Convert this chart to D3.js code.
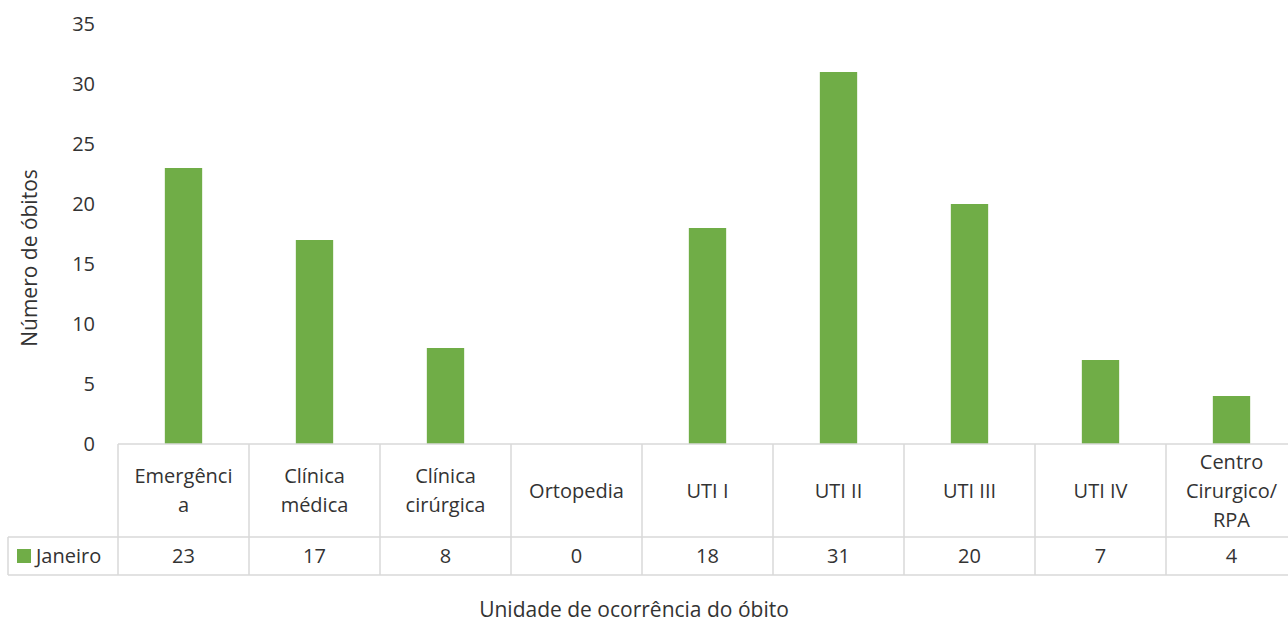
<!DOCTYPE html>
<meta charset="utf-8">
<head>
<style>
  body { margin: 0; background: #fff; font-family: "Open Sans", sans-serif; }
  svg text { fill: #333333; }
</style>
<script src="https://cdn.jsdelivr.net/npm/d3@7"></script>
</head>
<body>
<svg id="chart"></svg>
<script>
// data
let categories = ["Emergência", "Clínica médica", "Clínica cirúrgica", "Ortopedia", "UTI I", "UTI II", "UTI III", "UTI IV", "Centro Cirurgico/RPA"]
let labelLines = [["Emergênci", "a"], ["Clínica", "médica"], ["Clínica", "cirúrgica"], ["Ortopedia"], ["UTI I"], ["UTI II"], ["UTI III"], ["UTI IV"], ["Centro", "Cirurgico/", "RPA"]]
let seriesName = "Janeiro"
let values = [23, 17, 8, 0, 18, 31, 20, 7, 4]
let yTicks = [0, 5, 10, 15, 20, 25, 30, 35]

let width = 1288, height = 625
let margin = {left: 118, top: 24}
let baseY = 444
let headerBottom = 537, rowBottom = 575
let legendLeft = 8
let green = "#70ad47", grid = "#d9d9d9"
let fs = "20px"

let svg = d3.select("#chart").attr("width", width).attr("height", height)

let x = d3.scaleBand()
    .domain(categories)
    .range([margin.left, margin.left + 131 * categories.length])
    .padding(0)

let y = d3.scaleLinear()
    .domain([0, 35])
    .range([baseY, margin.top])

let barW = x.bandwidth() * 0.285

// bars
svg.append("g").selectAll("rect")
    .data(values)
    .enter().append("rect")
    .attr("x", (d, i) => x(categories[i]) + (x.bandwidth() - barW) / 2)
    .attr("y", d => y(d))
    .attr("width", barW)
    .attr("height", d => baseY - y(d))
    .attr("fill", green)

// y axis labels (no line)
let axisY = d3.axisLeft(y).tickValues(yTicks).tickSize(0).tickPadding(0)
let gy = svg.append("g")
    .attr("transform", `translate(${margin.left - 23},0)`)
    .call(axisY)
gy.select(".domain").remove()
gy.selectAll("text")
    .style("font-family", "Open Sans")
    .style("font-size", fs)
    .attr("fill", "#333333")
    .attr("text-anchor", "end")

// data table
let table = svg.append("g")
let xEnd = x.range()[1]
let lines = [
    [margin.left, baseY, xEnd, baseY],
    [legendLeft, headerBottom, xEnd, headerBottom],
    [legendLeft, rowBottom, xEnd, rowBottom],
    [legendLeft, headerBottom, legendLeft, rowBottom]
]
categories.forEach(c => lines.push([x(c), baseY, x(c), rowBottom]))
lines.push([xEnd, baseY, xEnd, rowBottom])
table.selectAll("line")
    .data(lines)
    .enter().append("line")
    .attr("x1", d => d[0]).attr("y1", d => d[1])
    .attr("x2", d => d[2]).attr("y2", d => d[3])
    .attr("stroke", grid)
    .attr("stroke-width", 1.5)

// category labels
let headerMid = (baseY + headerBottom) / 2
let lineH = 29
categories.forEach((c, i) => {
    let ls = labelLines[i]
    let t = table.append("text")
        .attr("text-anchor", "middle")
        .style("font-size", fs)
    ls.forEach((l, j) => {
        t.append("tspan")
            .attr("x", x(c) + x.bandwidth() / 2)
            .attr("y", headerMid + (j - (ls.length - 1) / 2) * lineH)
            .attr("dy", "0.35em")
            .text(l)
    })
})

// values row
let rowMid = (headerBottom + rowBottom) / 2
table.selectAll(".val")
    .data(values)
    .enter().append("text")
    .attr("class", "val")
    .attr("x", (d, i) => x(categories[i]) + x.bandwidth() / 2)
    .attr("y", rowMid)
    .attr("dy", "0.35em")
    .attr("text-anchor", "middle")
    .style("font-size", fs)
    .text(d => d)

// legend key in table
table.append("rect")
    .attr("x", 17).attr("y", rowMid - 7)
    .attr("width", 14).attr("height", 14)
    .attr("fill", green)
table.append("text")
    .attr("x", 36).attr("y", rowMid).attr("dy", "0.35em")
    .style("font-size", fs)
    .text(seriesName)

// axis titles
svg.append("text")
    .attr("transform", `translate(37,258) rotate(-90)`)
    .attr("text-anchor", "middle")
    .style("font-size", "21px")
    .text("Número de óbitos")

svg.append("text")
    .attr("x", 634).attr("y", 617)
    .attr("text-anchor", "middle")
    .style("font-size", "21px")
    .text("Unidade de ocorrência do óbito")
</script>
</body>
